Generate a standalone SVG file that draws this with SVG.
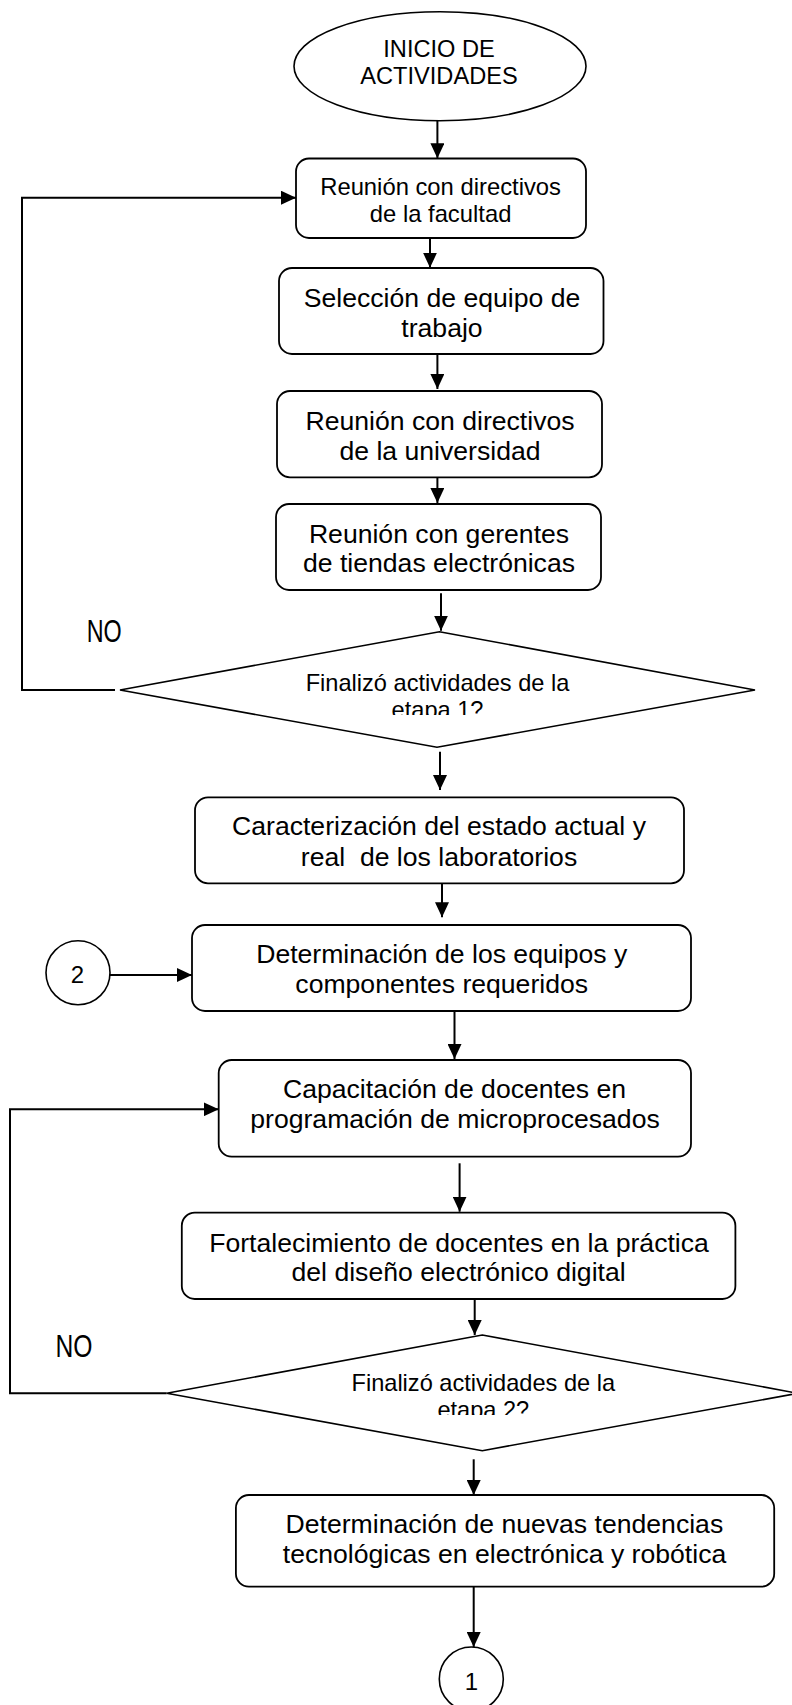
<svg xmlns="http://www.w3.org/2000/svg" width="792" height="1705" viewBox="0 0 792 1705">
<style>
.box{fill:#fff;stroke:#000;stroke-width:1.8}
.shape{fill:#fff;stroke:#000;stroke-width:1.6}
.t{font-family:"Liberation Sans",Arial,sans-serif;fill:#000;text-anchor:middle;white-space:pre}
.s{font-size:23.6px}
.b{font-size:26.6px}
.c{fill:none;stroke:#000;stroke-width:2}
.no{font-family:"Liberation Sans",Arial,sans-serif;font-size:31px;fill:#000}
</style>
<defs>
<marker id="ah" markerUnits="userSpaceOnUse" markerWidth="15" markerHeight="14" refX="15" refY="7" orient="auto">
<path d="M0,0 L15,7 L0,14 Z" fill="#000"/>
</marker>
<clipPath id="clipD1"><rect x="0" y="600" width="792" height="115"/></clipPath>
<clipPath id="clipD2"><rect x="0" y="1300" width="792" height="115"/></clipPath>
</defs>
<rect width="792" height="1705" fill="#fff"/>

<g id="connectors">
<line class="c" x1="437.4" y1="116" x2="437.4" y2="158.3" marker-end="url(#ah)"/>
<line class="c" x1="430" y1="238" x2="430" y2="267.7" marker-end="url(#ah)"/>
<line class="c" x1="437.4" y1="354" x2="437.4" y2="389" marker-end="url(#ah)"/>
<line class="c" x1="437.4" y1="477.3" x2="437.4" y2="503" marker-end="url(#ah)"/>
<line class="c" x1="441" y1="593.3" x2="441" y2="630.7" marker-end="url(#ah)"/>
<line class="c" x1="440" y1="751.7" x2="440" y2="790" marker-end="url(#ah)"/>
<line class="c" x1="442" y1="883" x2="442" y2="917.3" marker-end="url(#ah)"/>
<line class="c" x1="110" y1="975" x2="192" y2="975" marker-end="url(#ah)"/>
<line class="c" x1="454.5" y1="1011" x2="454.5" y2="1059" marker-end="url(#ah)"/>
<line class="c" x1="459.6" y1="1163.3" x2="459.6" y2="1211.7" marker-end="url(#ah)"/>
<line class="c" x1="474.7" y1="1299" x2="474.7" y2="1335" marker-end="url(#ah)"/>
<line class="c" x1="473.7" y1="1459.3" x2="473.7" y2="1495" marker-end="url(#ah)"/>
<line class="c" x1="473.7" y1="1586.7" x2="473.7" y2="1647" marker-end="url(#ah)"/>
<polyline class="c" points="115,690 22,690 22,197.7 296,197.7" marker-end="url(#ah)"/>
<polyline class="c" points="166.7,1393.3 10,1393.3 10,1109.3 218.7,1109.3" marker-end="url(#ah)"/>
</g>

<g id="inicio">
<ellipse class="shape" cx="440" cy="66.2" rx="146" ry="54.5"/>
<text class="t s" x="439" y="57.3">INICIO DE</text>
<text class="t s" x="439" y="84">ACTIVIDADES</text>
</g>

<g id="reunion-facultad">
<rect class="box" x="296" y="158.5" width="290" height="79.5" rx="13"/>
<text class="t" style="font-size:23.8px" x="440.6" y="195">Reunión con directivos</text>
<text class="t" style="font-size:23.8px" x="440.6" y="221.7">de la facultad</text>
</g>

<g id="seleccion">
<rect class="box" x="279" y="268" width="324.5" height="86" rx="13"/>
<text class="t b" x="442" y="307.3">Selección de equipo de</text>
<text class="t b" x="442" y="336.7">trabajo</text>
</g>

<g id="reunion-universidad">
<rect class="box" x="277" y="391" width="325" height="86.3" rx="13"/>
<text class="t b" x="440" y="430">Reunión con directivos</text>
<text class="t b" x="440" y="460">de la universidad</text>
</g>

<g id="reunion-gerentes">
<rect class="box" x="276" y="504" width="325" height="86" rx="13"/>
<text class="t b" x="439" y="543.3">Reunión con gerentes</text>
<text class="t b" x="439" y="571.7">de tiendas electrónicas</text>
</g>

<g id="decision-1">
<polygon class="shape" points="439.4,631.7 755,690 437,747.3 120,690"/>
<text class="t s" x="437.5" y="690.7">Finalizó actividades de la</text>
<text class="t s" x="437.5" y="717.5" clip-path="url(#clipD1)">etapa 1?</text>
</g>
<g id="label-no-1">
<text class="no" x="86.7" y="642.3" textLength="35" lengthAdjust="spacingAndGlyphs">NO</text>
</g>

<g id="caracterizacion">
<rect class="box" x="195" y="797.3" width="489" height="86" rx="13"/>
<text class="t b" x="439" y="835">Caracterización del estado actual y</text>
<text class="t b" x="439" y="866">real  de los laboratorios</text>
</g>

<g id="conector-2">
<circle class="shape" cx="78" cy="972.8" r="32"/>
<text class="t" style="font-size:24px" x="77.5" y="983.3">2</text>
</g>

<g id="determinacion-equipos">
<rect class="box" x="192" y="925" width="499" height="86" rx="13"/>
<text class="t b" x="441.7" y="963.3">Determinación de los equipos y</text>
<text class="t b" x="441.7" y="992.7">componentes requeridos</text>
</g>

<g id="capacitacion">
<rect class="box" x="218.7" y="1060" width="472.3" height="96.7" rx="13"/>
<text class="t b" x="454.5" y="1098.3">Capacitación de docentes en</text>
<text class="t b" x="455" y="1128.3">programación de microprocesados</text>
</g>

<g id="fortalecimiento">
<rect class="box" x="181.8" y="1212.7" width="553.6" height="86.3" rx="13"/>
<text class="t b" x="459" y="1251.7">Fortalecimiento de docentes en la práctica</text>
<text class="t b" x="458.6" y="1281">del diseño electrónico digital</text>
</g>

<g id="decision-2">
<polygon class="shape" points="482.3,1335 798,1393.3 482.3,1450.7 166.7,1393.3"/>
<text class="t s" x="483.3" y="1390.7">Finalizó actividades de la</text>
<text class="t s" x="483.3" y="1417.5" clip-path="url(#clipD2)">etapa 2?</text>
</g>
<g id="label-no-2">
<text class="no" x="55.5" y="1357.3" textLength="37" lengthAdjust="spacingAndGlyphs">NO</text>
</g>

<g id="tendencias">
<rect class="box" x="235.9" y="1495" width="538.3" height="91.7" rx="13"/>
<text class="t b" x="504.4" y="1533.3">Determinación de nuevas tendencias</text>
<text class="t b" x="504.5" y="1563.3">tecnológicas en electrónica y robótica</text>
</g>

<g id="conector-1">
<circle class="shape" cx="471.3" cy="1679" r="32"/>
<text class="t" style="font-size:24px" x="471.5" y="1689.5">1</text>
</g>
</svg>
